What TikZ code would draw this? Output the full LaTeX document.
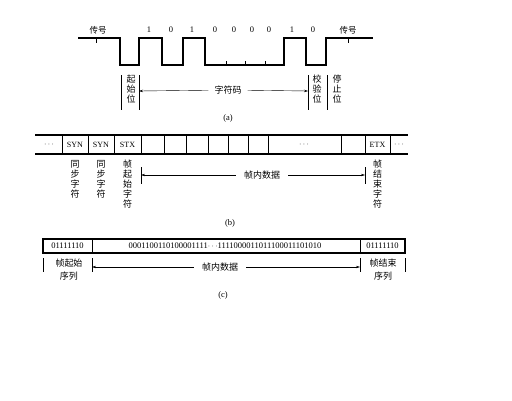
\documentclass[tikz,border=0pt]{standalone}
\usepackage{fontspec}
\setmainfont{Liberation Serif}
\newfontfamily\cjk{Noto Sans CJK SC}
\usetikzlibrary{arrows.meta}

\tikzset{
	signal/.style={line width=1.2pt},
	rahmen/.style={line width=1.1pt},
	trenn/.style={line width=0.8pt},
	marke/.style={line width=0.5pt},
	pfeil/.style={line width=0.4pt, -{Stealth[length=4pt,width=2.4pt]}},
	ziffer/.style={font=\fontsize{8.5}{9}\selectfont, inner sep=0pt},
	zeichen/.style={font=\cjk\fontsize{8.5}{9}\selectfont, inner sep=1pt},
	senkrecht/.style={font=\cjk\fontsize{9}{10}\selectfont, align=center, inner sep=0pt, anchor=north},
	feld/.style={font=\fontsize{8}{9}\selectfont, inner sep=0pt},
}

\begin{document}
\begin{tikzpicture}[x=1pt,y=-1pt]
	\useasboundingbox[fill=white] (0,0) rectangle (512,400);

	% Teil (a): Signalverlauf
	\draw[signal] (78,38) -- (120,38) -- (120,65) -- (139,65) -- (139,38) -- (162,38) -- (162,65)
		-- (183,65) -- (183,38) -- (205,38) -- (205,65) -- (284,65) -- (284,38) -- (306,38)
		-- (306,65) -- (326,65) -- (326,38) -- (373,38);

	% Kleine Striche
	\draw[marke] (96,38) -- (96,43);
	\draw[marke] (348,38) -- (348,43);
	\draw[marke] (226,65) -- (226,61);
	\draw[marke] (245,65) -- (245,61);
	\draw[marke] (265,65) -- (265,61);

	% Beschriftung oben
	\node[zeichen] (mark1) at (98,30) {传号};
	\node[zeichen] (mark2) at (348,30) {传号};
	\node[ziffer] (b1) at (149,30) {1};
	\node[ziffer] (b2) at (171,30) {0};
	\node[ziffer] (b3) at (192,30) {1};
	\node[ziffer] (b4) at (215,30) {0};
	\node[ziffer] (b5) at (234,30) {0};
	\node[ziffer] (b6) at (252,30) {0};
	\node[ziffer] (b7) at (269,30) {0};
	\node[ziffer] (b8) at (292,30) {1};
	\node[ziffer] (b9) at (313,30) {0};

	% Senkrechte Linien unten
	\draw[marke] (121,75) -- (121,110);
	\draw[marke] (139,75) -- (139,110);
	\draw[marke] (308,75) -- (308,110);
	\draw[marke] (327,75) -- (327,110);

	\node[senkrecht] (start) at (131,75) {起\\始\\位};
	\node[senkrecht] (pruef) at (317,75) {校\\验\\位};
	\node[senkrecht] (stopp) at (337,75) {停\\止\\位};

	\coordinate (zl) at (139,91);
	\coordinate (zr) at (308,91);
	\node[zeichen, font=\cjk\fontsize{9}{10}\selectfont, inner sep=6pt] (code) at (228,90) {字符码};
	\draw[pfeil] (code) -- (zl);
	\draw[pfeil] (code) -- (zr);

	\node[ziffer] (capa) at (228,118) {(a)};

	% Teil (b): Rahmen
	\draw[rahmen] (35,135) -- (408,135);
	\draw[rahmen] (35,154) -- (408,154);
	\foreach \x in {62,88,114,141,164,186,208,228,248,268,341,365,390}
		\draw[trenn] (\x,135) -- (\x,154);

	\node[feld] (pl) at (49,144.5) {$\cdots$};
	\node[feld] (syn1) at (75,144.5) {SYN};
	\node[feld] (syn2) at (101,144.5) {SYN};
	\node[feld] (stx) at (127.5,144.5) {STX};
	\node[feld] (pm) at (304,144.5) {$\cdots$};
	\node[feld] (etx) at (377.5,144.5) {ETX};
	\node[feld] (pr) at (399,144.5) {$\cdots$};

	\node[senkrecht] (sync1) at (75,160) {同\\步\\字\\符};
	\node[senkrecht] (sync2) at (101,160) {同\\步\\字\\符};
	\node[senkrecht] (anf) at (127.5,160) {帧\\起\\始\\字\\符};
	\node[senkrecht] (ende) at (377.5,160) {帧\\结\\束\\字\\符};

	\draw[marke] (141,167) -- (141,184);
	\draw[marke] (365,167) -- (365,184);
	\coordinate (dl) at (141,175);
	\coordinate (dr) at (365,175);
	\node[zeichen, font=\cjk\fontsize{9}{10}\selectfont, inner sep=8pt] (daten) at (262,175) {帧内数据};
	\draw[pfeil] (daten) -- (dl);
	\draw[pfeil] (daten) -- (dr);

	\node[ziffer] (capb) at (230,223) {(b)};

	% Teil (c): Bitfolge
	\draw[rahmen] (43,239) rectangle (405,253);
	\draw[trenn] (92,239) -- (92,253);
	\draw[trenn] (360,239) -- (360,253);

	\node[ziffer, font=\fontsize{8.5}{9}\selectfont] (flag1) at (67.5,246) {01111110};
	\node[ziffer, font=\fontsize{8.5}{9}\selectfont] (bits) at (225,246) {0001100110100001111$\cdots$1111000011011100011101010};
	\node[ziffer, font=\fontsize{8.5}{9}\selectfont] (flag2) at (382.5,246) {01111110};

	\draw[marke] (43,258) -- (43,272);
	\draw[marke] (92,258) -- (92,272);
	\draw[marke] (360,258) -- (360,272);
	\draw[marke] (405,258) -- (405,272);

	\node[zeichen, font=\cjk\fontsize{9}{13}\selectfont, align=center] (fanf) at (69,270) {帧起始\\序列};
	\node[zeichen, font=\cjk\fontsize{9}{13}\selectfont, align=center] (fend) at (383,270) {帧结束\\序列};

	\coordinate (cl) at (92,267);
	\coordinate (cr) at (360,267);
	\node[zeichen, font=\cjk\fontsize{9}{10}\selectfont, inner sep=8pt] (fdaten) at (220,267) {帧内数据};
	\draw[pfeil] (fdaten) -- (cl);
	\draw[pfeil] (fdaten) -- (cr);

	\node[ziffer] (capc) at (223,295) {(c)};
\end{tikzpicture}
\end{document}
